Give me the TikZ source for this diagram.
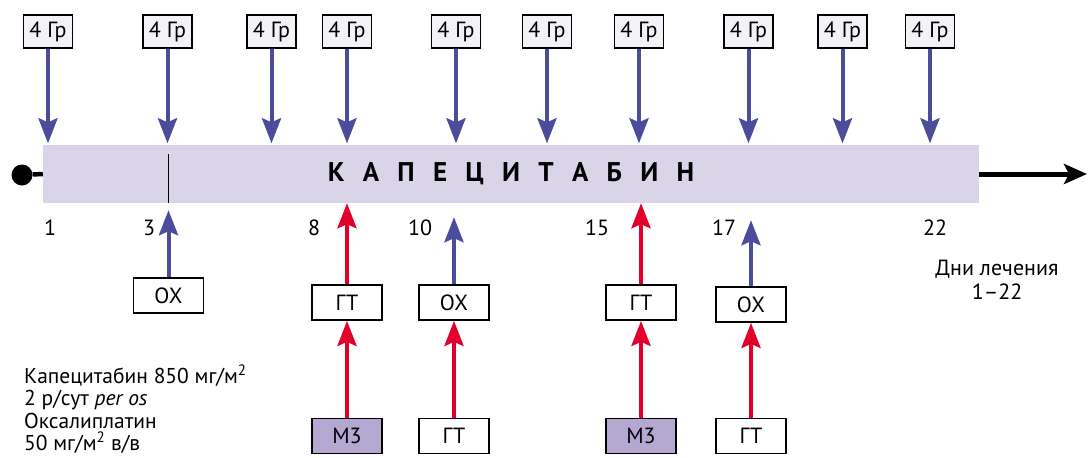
\documentclass[tikz,border=0pt]{standalone}
\usepackage{fontspec}
\setmainfont{PT Sans}
\usetikzlibrary{arrows.meta}
\definecolor{barfill}{HTML}{DAD4E8}
\definecolor{topfill}{HTML}{F2F2F7}
\definecolor{mzfill}{HTML}{B4A8D1}
\definecolor{arrblue}{HTML}{4B4C9C}
\definecolor{arrred}{HTML}{E2002A}
\newcommand\lsp{\hspace{18.3pt}}
\begin{document}
\begin{tikzpicture}[x=1pt,y=-1pt,
  font=\fontsize{22pt}{22.5pt}\selectfont,
  topbox/.style={draw, line width=1.2pt, fill=topfill, minimum width=49pt, minimum height=33pt, inner sep=0pt},
  lowbox/.style={draw, line width=1.8pt, fill=white, minimum width=70pt, minimum height=35pt, inner sep=0pt},
  mzbox/.style={lowbox, fill=mzfill},
  daylbl/.style={inner sep=0pt},
  legline/.style={anchor=base west, inner sep=0pt, font=\fontsize{21.5pt}{22.5pt}\selectfont},
  blarrow/.style={draw=arrblue, line width=4pt, -{Stealth[length=25pt,width=19pt,inset=4pt,fill=arrblue]}},
  rdarrow/.style={draw=arrred, line width=4pt, -{Stealth[length=25pt,width=19pt,inset=4pt,fill=arrred]}},
]
\useasboundingbox (0,0) rectangle (1088,458);

% main bar
\node[fill=barfill, minimum width=936pt, minimum height=58pt, inner sep=0pt,
      font=\fontsize{27pt}{30pt}\selectfont\bfseries] (bar) at (511,174)
  {К\lsp А\lsp П\lsp Е\lsp Ц\lsp И\lsp Т\lsp А\lsp Б\lsp И\lsp Н};

% start dot and end arrow
\node[circle, fill=black, minimum size=21pt, inner sep=0pt] (dot) at (22,175) {};
\draw[line width=4.5pt] (dot) -- (bar.west);
\coordinate (end) at (1087,174);
\draw[line width=5pt, -{Stealth[length=23pt,width=20pt,inset=5pt]}] (bar.east) -- (end);

% top boxes
\foreach \i/\x in {1/48,2/167.5,3/271.5,4/347,5/456,6/547,7/639,8/748.5,9/842.5,10/930}{
  \node[topbox] (t\i) at (\x,31.5) {4 Гр};
  \draw[blarrow, shorten >=1.5pt] (t\i.south) -- (t\i.south |- bar.north);
}

% day labels
\node[daylbl] (d1) at (50,228) {1};
\node[daylbl] (d3) at (149,228) {3};
\node[daylbl] (d8) at (314,228) {8};
\node[daylbl] (d10) at (420,228) {10};
\node[daylbl] (d15) at (597,228) {15};
\node[daylbl] (d17) at (724,228) {17};
\node[daylbl] (d22) at (935,228) {22};

% lower boxes
\node[lowbox] (o1) at (168.5,295.5) {ОХ};
\node[lowbox] (g1) at (347,302.5) {ГТ};
\node[lowbox] (o2) at (454,302.5) {ОХ};
\node[lowbox] (g2) at (641,302.5) {ГТ};
\node[lowbox] (o3) at (751,304.5) {ОХ};
\node[mzbox] (m1) at (347,436) {М3};
\node[lowbox] (g3) at (454,436) {ГТ};
\node[mzbox] (m2) at (641,436) {М3};
\node[lowbox] (g4) at (751,436) {ГТ};

% tick at day 3
\coordinate (tk) at (168.5,154);
\draw[line width=1.3pt] (tk) -- (tk |- bar.south);

% arrows to bar
\draw[blarrow, shorten >=7pt] (o1.north) -- (o1.north |- bar.south);
\draw[rdarrow] (g1.north) -- (g1.south |- bar.south);
\draw[blarrow, shorten >=14pt] (o2.north) -- (o2.north |- bar.south);
\draw[rdarrow] (g2.north) -- (g2.north |- bar.south);
\draw[blarrow, shorten >=17pt] (o3.north) -- (o3.north |- bar.south);

% lower red arrows
\draw[rdarrow] (m1.north) -- (g1.south);
\draw[rdarrow] (g3.north) -- (o2.south);
\draw[rdarrow] (m2.north) -- (g2.south);
\draw[rdarrow] (g4.north) -- (o3.south);

% legends
\node[align=center, inner sep=0pt] (days) at (997,280) {Дни лечения\\[1pt]1–22};
\node[legline] (leg1) at (24,383) {Капецитабин 850 мг/м\textsuperscript{2}};
\node[legline] (leg2) at (24,405.5) {2 р/сут \textit{per os}};
\node[legline] (leg3) at (24,428) {Оксалиплатин};
\node[legline] (leg4) at (24,450.5) {50 мг/м\textsuperscript{2} в/в};
\end{tikzpicture}
\end{document}
